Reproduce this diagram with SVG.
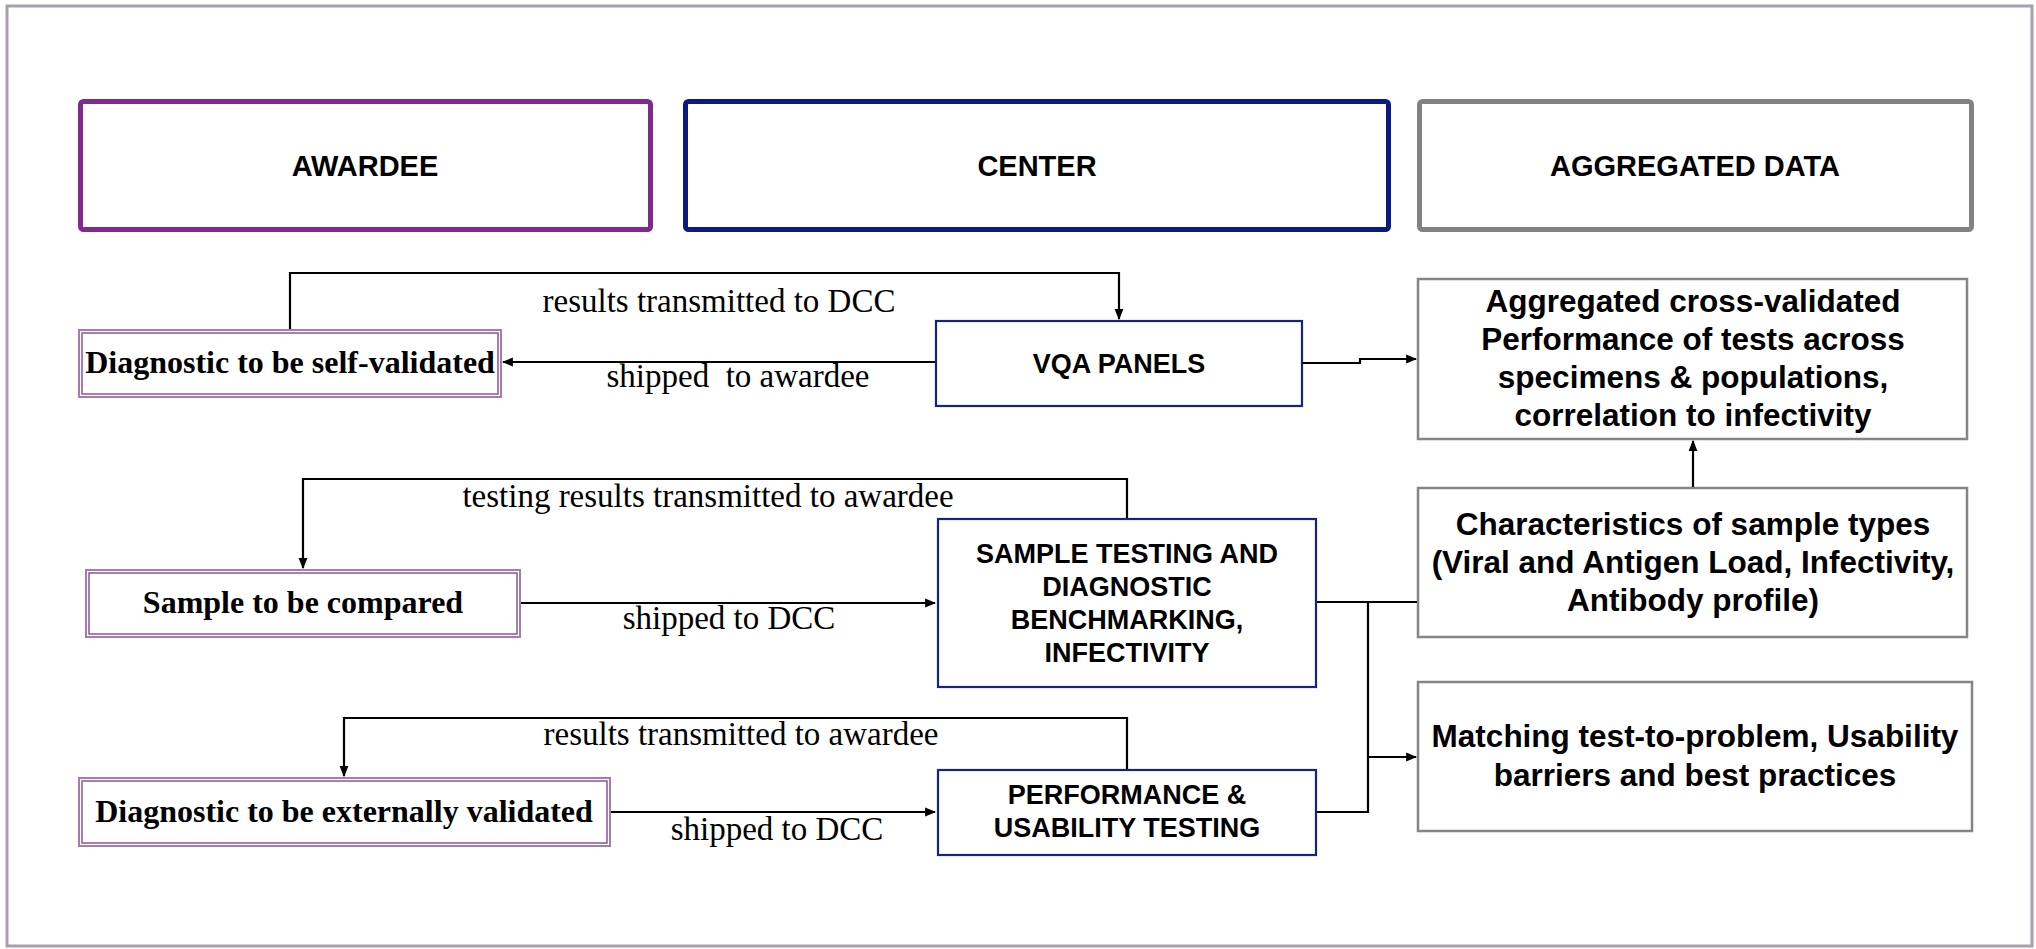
<svg xmlns="http://www.w3.org/2000/svg" width="2036" height="949" viewBox="0 0 2036 949">
  <style>
    .hdr { fill: #ffffff; stroke-width: 5; }
    .hdr-text { font-family: "Liberation Sans", Arial, sans-serif; font-weight: bold; font-size: 29px; fill: #000; text-anchor: middle; }
    .aw-outer { fill: #ffffff; stroke: #a47cb0; stroke-width: 2; }
    .aw-inner { fill: none; stroke: #8f52a0; stroke-width: 1.5; }
    .aw-text { font-family: "Liberation Serif", "Times New Roman", serif; font-weight: bold; font-size: 32px; fill: #000; text-anchor: middle; }
    .ctr { fill: #ffffff; stroke: #14247f; stroke-width: 2.2; }
    .ctr-text { font-family: "Liberation Sans", Arial, sans-serif; font-weight: bold; font-size: 27px; fill: #000; text-anchor: middle; }
    .agg { fill: #ffffff; stroke: #858585; stroke-width: 2.5; }
    .agg-text { font-family: "Liberation Sans", Arial, sans-serif; font-weight: bold; font-size: 31.5px; fill: #000; text-anchor: middle; }
    .lbl { font-family: "Liberation Serif", "Times New Roman", serif; font-size: 33px; fill: #000; text-anchor: middle; }
    .conn { fill: none; stroke: #000; stroke-width: 2.2; }
  </style>
  <defs>
    <marker id="arrow" viewBox="0 0 10 10" refX="9" refY="5" markerWidth="5" markerHeight="5" markerUnits="strokeWidth" orient="auto">
      <path d="M0,1 L10,5 L0,9 Z" fill="#000"/>
    </marker>
  </defs>

  <!-- page frame -->
  <rect x="7" y="6" width="2025" height="940" fill="#ffffff" stroke="#a99dae" stroke-width="3"/>

  <!-- column headers -->
  <g id="header-awardee">
    <rect class="hdr" x="80.5" y="101.5" width="570" height="128" rx="3" stroke="#7f2a8d"/>
    <text class="hdr-text" x="365" y="176">AWARDEE</text>
  </g>
  <g id="header-center">
    <rect class="hdr" x="685.5" y="101.5" width="703" height="128" rx="3" stroke="#0a1a80"/>
    <text class="hdr-text" x="1037" y="176">CENTER</text>
  </g>
  <g id="header-aggregated">
    <rect class="hdr" x="1419.5" y="101.5" width="552" height="128" rx="3" stroke="#828282"/>
    <text class="hdr-text" x="1695" y="176">AGGREGATED DATA</text>
  </g>

  <!-- awardee nodes -->
  <g id="self-validated">
    <rect class="aw-outer" x="79" y="330" width="422" height="67"/>
    <rect class="aw-inner" x="82" y="333" width="416" height="61"/>
    <text class="aw-text" x="290" y="373">Diagnostic to be self-validated</text>
  </g>
  <g id="sample-compared">
    <rect class="aw-outer" x="86" y="570" width="434" height="67"/>
    <rect class="aw-inner" x="89" y="573" width="428" height="61"/>
    <text class="aw-text" x="303" y="613">Sample to be compared</text>
  </g>
  <g id="externally-validated">
    <rect class="aw-outer" x="79" y="778" width="531" height="68"/>
    <rect class="aw-inner" x="82" y="781" width="525" height="62"/>
    <text class="aw-text" x="344" y="822">Diagnostic to be externally validated</text>
  </g>

  <!-- center nodes -->
  <g id="vqa-panels">
    <rect class="ctr" x="936" y="321" width="366" height="85"/>
    <text class="ctr-text" x="1119" y="373">VQA PANELS</text>
  </g>
  <g id="sample-testing">
    <rect class="ctr" x="938" y="519" width="378" height="168"/>
    <text class="ctr-text" x="1127" y="563">SAMPLE TESTING AND</text>
    <text class="ctr-text" x="1127" y="596">DIAGNOSTIC</text>
    <text class="ctr-text" x="1127" y="629">BENCHMARKING,</text>
    <text class="ctr-text" x="1127" y="662">INFECTIVITY</text>
  </g>
  <g id="performance-usability">
    <rect class="ctr" x="938" y="770" width="378" height="85"/>
    <text class="ctr-text" x="1127" y="804">PERFORMANCE &amp;</text>
    <text class="ctr-text" x="1127" y="837">USABILITY TESTING</text>
  </g>

  <!-- aggregated data nodes -->
  <g id="cross-validated">
    <rect class="agg" x="1418" y="279" width="549" height="160"/>
    <text class="agg-text" x="1693" y="312">Aggregated cross-validated</text>
    <text class="agg-text" x="1693" y="350">Performance of tests across</text>
    <text class="agg-text" x="1693" y="388">specimens &amp; populations,</text>
    <text class="agg-text" x="1693" y="426">correlation to infectivity</text>
  </g>
  <g id="sample-characteristics">
    <rect class="agg" x="1418" y="488" width="549" height="149"/>
    <text class="agg-text" x="1693" y="535">Characteristics of sample types</text>
    <text class="agg-text" x="1693" y="573">(Viral and Antigen Load, Infectivity,</text>
    <text class="agg-text" x="1693" y="611">Antibody profile)</text>
  </g>
  <g id="matching-test">
    <rect class="agg" x="1418" y="682" width="554" height="149"/>
    <text class="agg-text" x="1695" y="747">Matching test-to-problem, Usability</text>
    <text class="agg-text" x="1695" y="786">barriers and best practices</text>
  </g>

  <!-- connectors -->
  <g id="connectors">
    <!-- row 1 -->
    <path class="conn" d="M290,329 V273 H1119 V319" marker-end="url(#arrow)"/>
    <path class="conn" d="M935,362 H503" marker-end="url(#arrow)"/>
    <!-- row 2 -->
    <path class="conn" d="M1127,518 V479 H303 V568" marker-end="url(#arrow)"/>
    <path class="conn" d="M521,603 H935" marker-end="url(#arrow)"/>
    <!-- row 3 -->
    <path class="conn" d="M1127,769 V718 H344 V776" marker-end="url(#arrow)"/>
    <path class="conn" d="M611,812 H935" marker-end="url(#arrow)"/>
    <!-- into aggregated data -->
    <path class="conn" d="M1302,363 H1360 V359 H1416" marker-end="url(#arrow)"/>
    <path class="conn" d="M1317,602 H1417"/>
    <path class="conn" d="M1368,602 V812 H1317"/>
    <path class="conn" d="M1368,757 H1416" marker-end="url(#arrow)"/>
    <path class="conn" d="M1693,487 V441" marker-end="url(#arrow)"/>
  </g>

  <!-- connector labels -->
  <g id="connector-labels">
    <text class="lbl" x="719" y="312">results transmitted to DCC</text>
    <text class="lbl" x="738" y="387" xml:space="preserve">shipped  to awardee</text>
    <text class="lbl" x="708" y="507">testing results transmitted to awardee</text>
    <text class="lbl" x="729" y="629">shipped to DCC</text>
    <text class="lbl" x="741" y="745">results transmitted to awardee</text>
    <text class="lbl" x="777" y="840">shipped to DCC</text>
  </g>
</svg>
